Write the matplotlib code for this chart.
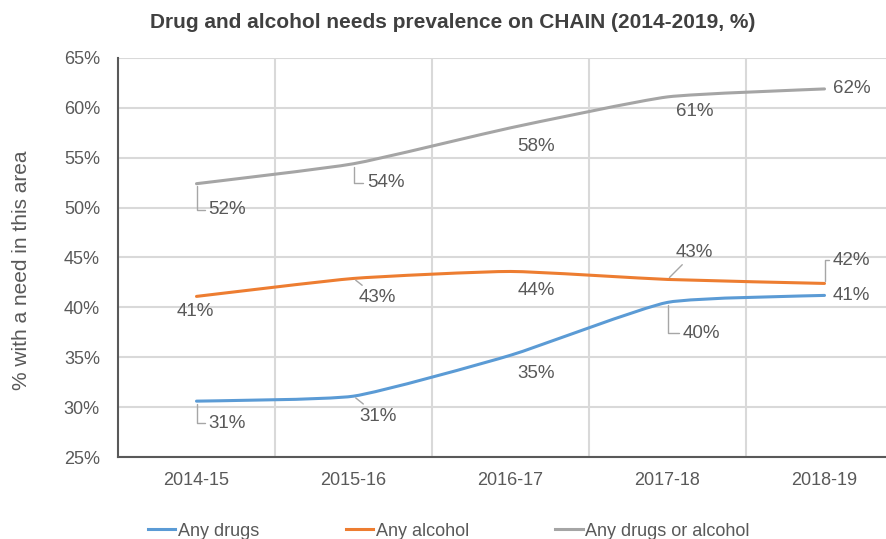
import numpy as np
import matplotlib.pyplot as plt
from matplotlib.path import Path
from matplotlib.patches import PathPatch
from matplotlib.lines import Line2D

plt.rcParams['font.family'] = ['Liberation Sans', 'DejaVu Sans']

years = ['2014-15', '2015-16', '2016-17', '2017-18', '2018-19']
drugs = [30.6, 31.1, 35.2, 40.5, 41.2]
alcohol = [41.1, 42.9, 43.6, 42.8, 42.4]
either = [52.4, 54.4, 58.0, 61.1, 61.9]

series_names = ['Any drugs', 'Any alcohol', 'Any drugs or alcohol']
colors = ['#5b9bd5', '#ed7d31', '#a5a5a5']

# label offsets in pixels (dx, dy) and leader style: None, 'angle' or 'diag'
label_offsets = [
    [(31, -22, 'angle'), (25, -20, 'diag'), (26, -18, None), (34, -31, 'angle'), (27, 0, None)],
    [(-1, -15, None), (24, -19, 'diag'), (26, -19, None), (27, 27, 'diag'), (27, 23, 'angle')],
    [(31, -26, 'angle'), (32, -19, 'angle'), (26, -19, None), (27, -15, None), (27, 0, None)],
]

TEXT = '#595959'
GRID = '#d9d9d9'
PX = 72 / 100  # pixels -> points at dpi 100


def smooth_path(xs, ys, k=12.0):
    # gently smoothed line like Excel's: cubic Bezier through the points
    pts = np.column_stack([xs, ys])
    verts = [pts[0]]
    codes = [Path.MOVETO]
    n = len(pts)
    for i in range(n - 1):
        p0 = pts[max(i - 1, 0)]
        p1 = pts[i]
        p2 = pts[i + 1]
        p3 = pts[min(i + 2, n - 1)]
        verts += [p1 + (p2 - p0) / k, p2 - (p3 - p1) / k, p2]
        codes += [Path.CURVE4] * 3
    return Path(verts, codes)


fig = plt.figure(figsize=(8.87, 5.39), dpi=100)
ax = fig.add_axes([118 / 887, 1 - 457 / 539, 785 / 887, 399 / 539])

x = np.arange(len(years))
for vals, col, offs in zip([drugs, alcohol, either], colors, label_offsets):
    ax.add_patch(PathPatch(smooth_path(x, vals), facecolor='none',
                           edgecolor=col, lw=2.2, capstyle='round', zorder=3))
    for xi, v, (dx, dy, lead) in zip(x, vals, offs):
        arrow = None
        if lead == 'angle':
            arrow = dict(arrowstyle='-', color='#a6a6a6', lw=1, shrinkA=1, shrinkB=2,
                         connectionstyle='angle,angleA=0,angleB=90,rad=0')
        elif lead == 'diag':
            arrow = dict(arrowstyle='-', color='#a6a6a6', lw=1, shrinkA=1, shrinkB=2)
        ax.annotate(f'{round(v)}%', (xi, v), xytext=(dx * PX, dy * PX),
                    textcoords='offset points', ha='center', va='center',
                    fontsize=13.5, color=TEXT, arrowprops=arrow, zorder=4)

ax.set_xlim(-0.5, len(years) - 0.5)
ax.set_ylim(25, 65)
ax.set_xticks(x)
ax.set_xticklabels(years)
ax.set_xticks(np.arange(0.5, len(years) - 0.5, 1), minor=True)
ax.set_yticks(np.arange(25, 66, 5))
ax.set_yticklabels([f'{t}%' for t in range(25, 66, 5)])
ax.grid(axis='x', which='minor', color=GRID, lw=1.5)
ax.grid(axis='y', which='major', color=GRID, lw=1.5)
ax.set_axisbelow(True)
ax.tick_params(which='both', length=0, labelsize=13, colors=TEXT)
ax.tick_params(axis='x', pad=11)
ax.tick_params(axis='y', pad=13)
for s in ['top', 'right']:
    ax.spines[s].set_visible(False)
for s in ['left', 'bottom']:
    ax.spines[s].set_color('#595959')
    ax.spines[s].set_linewidth(1.5)

fig.text(22 / 887, 1 - 270 / 539, '% with a need in this area', rotation=90,
         ha='center', va='center', fontsize=15, color=TEXT)
fig.text(453 / 887, 1 - 22 / 539, 'Drug and alcohol needs prevalence on CHAIN (2014-2019, %)',
         ha='center', va='center', fontsize=15, fontweight='bold', color='#404040')

handles = [Line2D([], [], color=c, lw=2.2) for c in colors]
fig.legend(handles, series_names, loc='center left', bbox_to_anchor=(148 / 887, 1 - 531 / 539),
           ncol=3, frameon=False, fontsize=13, handlelength=1.5, handletextpad=0.15,
           columnspacing=4.8, labelcolor=TEXT, borderaxespad=0, borderpad=0)

fig.savefig('out.png', dpi=100)
